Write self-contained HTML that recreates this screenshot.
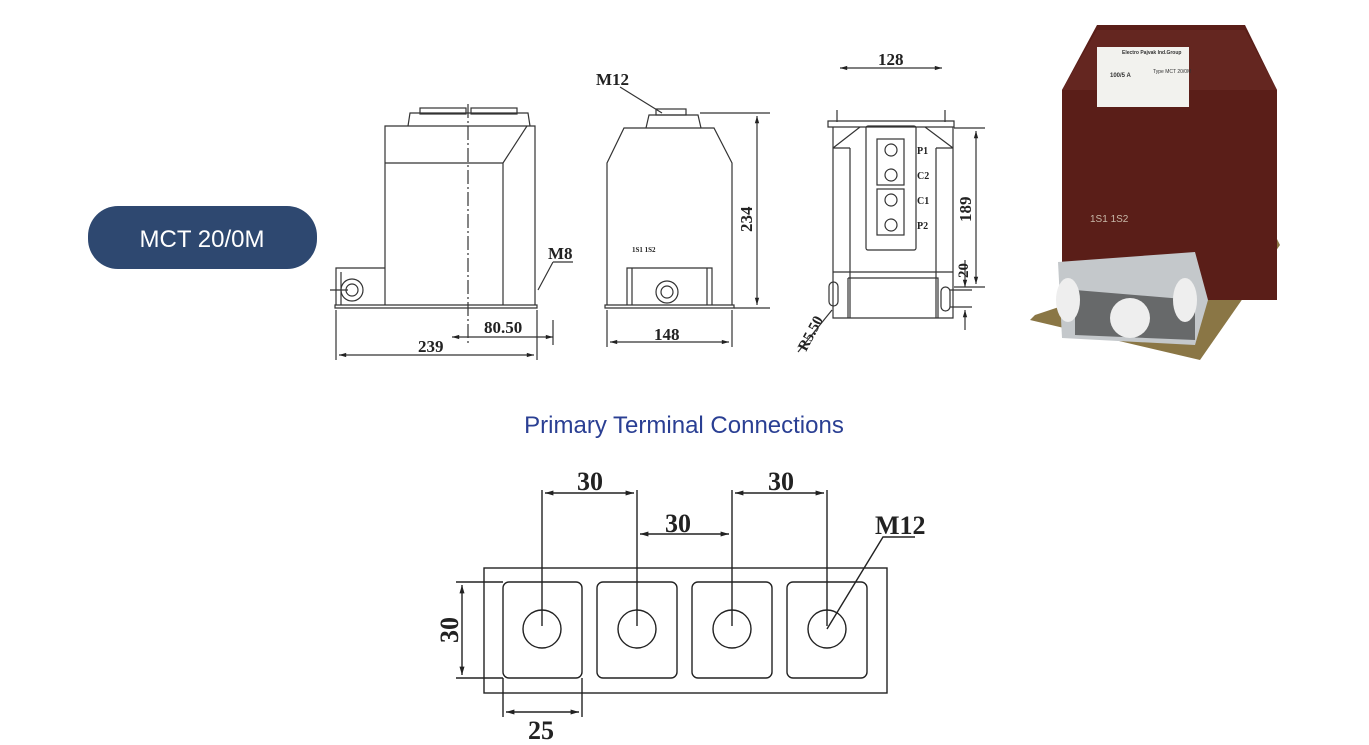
<!DOCTYPE html>
<html><head><meta charset="utf-8"><style>
html,body{margin:0;padding:0;background:#fff;width:1369px;height:745px;overflow:hidden}
svg{display:block}
.d{font-family:"Liberation Serif",serif;font-weight:bold;fill:#222}
</style></head><body>
<svg width="1369" height="745" viewBox="0 0 1369 745" xmlns="http://www.w3.org/2000/svg">
<defs>
<marker id="a" viewBox="0 0 10 10" refX="10" refY="5" markerWidth="8" markerHeight="6" orient="auto-start-reverse"><path d="M0,2 L10,5 L0,8 z" fill="#222"/></marker>
</defs>
<rect x="88" y="206" width="229" height="63" rx="30" fill="#2e4870"/>
<text x="202" y="247" text-anchor="middle" font-family="Liberation Sans,sans-serif" font-size="24" fill="#fff">MCT 20/0M</text>

<g fill="none" stroke="#333" stroke-width="1.2">
<path d="M385,305 V126 H535 V305"/>
<path d="M385,163 H503 L527,126 M503,163 V305"/>
<path d="M408,126 L410,113 H528 L530,126"/>
<rect x="420" y="108" width="46" height="6"/><rect x="471" y="108" width="46" height="6"/>
<path d="M336,305 V268 H385 M341,305 V272"/>
<circle cx="352" cy="290" r="11"/><circle cx="352" cy="290" r="6"/>
<path d="M330,290 H348"/>
<path d="M335,305 H537 V308 H335 z"/>
<path d="M468,104 V345" stroke-dasharray="14,3,2,3"/>
<path d="M336,310 V360 M537,310 V360 M553,320 V345"/>
<path d="M339,355 H534" marker-start="url(#a)" marker-end="url(#a)"/>
<path d="M452,337 H553" marker-start="url(#a)" marker-end="url(#a)"/>
<path d="M553,262 H573 M553,262 L538,290"/>
<path d="M607,305 V163 L624,128 H714 L732,163 V305"/>
<path d="M646,128 L649,115 H698 L701,128"/>
<rect x="656" y="109" width="30" height="6"/>
<path d="M605,305 H734 V308 H605 z"/>
<path d="M627,305 V268 H712 V305 M632,268 V305 M707,268 V305"/>
<circle cx="667" cy="292" r="11"/><circle cx="667" cy="292" r="6"/>
<path d="M700,113 H770 M734,308 H770 M607,310 V347 M732,310 V347"/>
<path d="M757,116 V305" marker-start="url(#a)" marker-end="url(#a)"/>
<path d="M610,342 H729" marker-start="url(#a)" marker-end="url(#a)"/>
<path d="M620,87 L662,113"/>
<path d="M828,121 H954 V127 H828 z"/>
<path d="M833,127 V318 H953 V127"/>
<path d="M833,148 L860,127 M953,148 L925,127 M850,148 V318 M936,148 V318 M833,148 H850 M936,148 H953"/>
<rect x="866" y="126" width="50" height="124" rx="2"/>
<rect x="877" y="139" width="27" height="46"/><rect x="877" y="189" width="27" height="46"/>
<circle cx="891" cy="150" r="6"/><circle cx="891" cy="175" r="6"/><circle cx="891" cy="200" r="6"/><circle cx="891" cy="225" r="6"/>
<path d="M833,272 H953 M848,278 H938 V318 M848,278 V318"/>
<rect x="829" y="282" width="9" height="24" rx="4.5"/><rect x="941" y="287" width="9" height="24" rx="4.5"/>
<path d="M837,110 V122 M945,110 V122 M954,128 H985 M954,287 H985 M950,290 H972 M950,307 H972"/>
<path d="M840,68 H942" marker-start="url(#a)" marker-end="url(#a)"/>
<path d="M976,131 V284" marker-start="url(#a)" marker-end="url(#a)"/>
<path d="M965,260 V287" marker-end="url(#a)"/><path d="M965,330 V310" marker-end="url(#a)"/>
<path d="M798,352 L832,310"/>
</g>
<text class="d" x="596" y="85" font-size="17">M12</text>
<text class="d" x="548" y="259" font-size="17">M8</text>
<text class="d" x="484" y="333" font-size="17">80.50</text>
<text class="d" x="418" y="352" font-size="17">239</text>
<text class="d" x="654" y="340" font-size="17">148</text>
<text class="d" x="878" y="65" font-size="17">128</text>
<text class="d" x="0" y="0" font-size="17" transform="translate(752,232) rotate(-90)">234</text>
<text class="d" x="0" y="0" font-size="17" transform="translate(971,222) rotate(-90)">189</text>
<text class="d" x="0" y="0" font-size="15" transform="translate(968,278) rotate(-90)">20</text>
<text class="d" x="0" y="0" font-size="15" transform="translate(806,352) rotate(-62)">R5.50</text>
<text class="d" x="632" y="252" font-size="7" font-family="Liberation Sans,sans-serif">1S1 1S2</text>
<g class="d" font-size="10" font-family="Liberation Sans,sans-serif"><text x="917" y="154">P1</text><text x="917" y="179">C2</text><text x="917" y="204">C1</text><text x="917" y="229">P2</text></g>

<!-- photo -->
<path d="M1035,315 L1275,235 L1280,245 L1200,360 L1030,320z" fill="#8a7645"/>
<path d="M1097,25 L1245,25 L1277,90 L1277,300 L1062,300 L1062,90z" fill="#5a1e18"/>
<path d="M1062,90 L1097,30 L1245,30 L1277,90z" fill="#642620"/>
<rect x="1097" y="47" width="92" height="60" fill="#f2f2ee"/>
<g font-family="Liberation Sans,sans-serif" font-size="5" fill="#333"><text x="1122" y="54" font-weight="bold">Electro Pajvak Ind.Group</text><text x="1110" y="77" font-weight="bold" font-size="6">100/5 A</text><text x="1153" y="73">Type MCT 20/0M</text></g>
<path d="M1058,262 L1195,252 L1208,300 L1195,345 L1062,338z" fill="#c4c8cb"/>
<path d="M1075,290 L1195,300 L1195,340 L1075,335z" fill="#2a2a2a" opacity="0.6"/>
<circle cx="1130" cy="318" r="20" fill="#eee"/><ellipse cx="1068" cy="300" rx="12" ry="22" fill="#eee"/><ellipse cx="1185" cy="300" rx="12" ry="22" fill="#eee"/>
<text x="1090" y="222" font-family="Liberation Sans,sans-serif" font-size="10" fill="#c8b8a8">1S1 1S2</text>

<text x="684" y="433" text-anchor="middle" font-family="Liberation Sans,sans-serif" font-size="24" fill="#2a3f93">Primary Terminal Connections</text>

<g fill="none" stroke="#222" stroke-width="1.4">
<rect x="484" y="568" width="403" height="125"/>
<rect x="503" y="582" width="79" height="96" rx="6"/><rect x="597" y="582" width="80" height="96" rx="6"/>
<rect x="692" y="582" width="80" height="96" rx="6"/><rect x="787" y="582" width="80" height="96" rx="6"/>
<circle cx="542" cy="629" r="19"/><circle cx="637" cy="629" r="19"/><circle cx="732" cy="629" r="19"/><circle cx="827" cy="629" r="19"/>
<path d="M542,490 V626 M637,490 V626 M732,490 V626 M827,490 V626"/>
<path d="M545,493 H634" marker-start="url(#a)" marker-end="url(#a)"/>
<path d="M735,493 H824" marker-start="url(#a)" marker-end="url(#a)"/>
<path d="M640,534 H729" marker-start="url(#a)" marker-end="url(#a)"/>
<path d="M456,582 H503 M456,678 H503"/>
<path d="M462,585 V675" marker-start="url(#a)" marker-end="url(#a)"/>
<path d="M503,678 V717 M582,678 V717"/>
<path d="M506,712 H579" marker-start="url(#a)" marker-end="url(#a)"/>
<path d="M915,537 H883 L827,629"/>
</g>
<g class="d" font-size="26">
<text x="590" y="490" text-anchor="middle">30</text>
<text x="781" y="490" text-anchor="middle">30</text>
<text x="678" y="532" text-anchor="middle">30</text>
<text x="541" y="739" text-anchor="middle">25</text>
<text x="875" y="534">M12</text>
<text x="0" y="0" text-anchor="middle" transform="translate(458,630) rotate(-90)">30</text>
</g>
</svg>
</body></html>
